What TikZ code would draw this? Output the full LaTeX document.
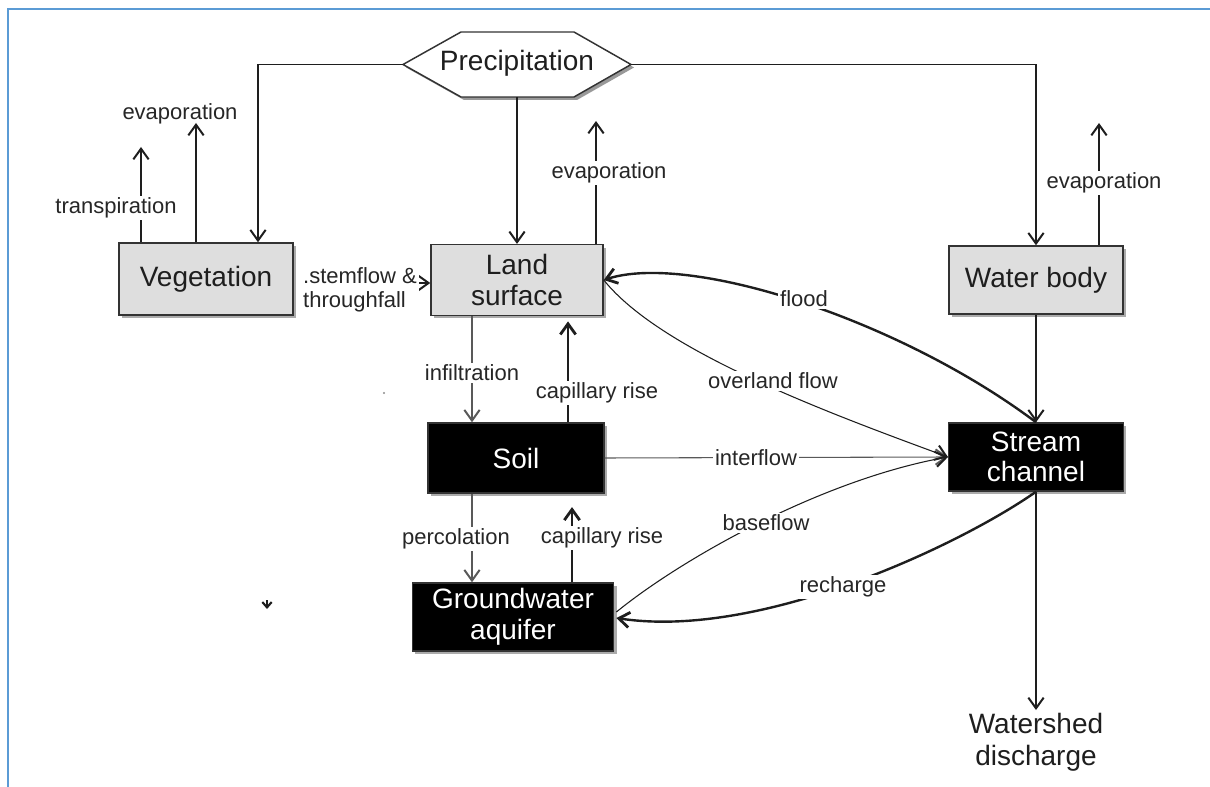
\documentclass[tikz,border=0pt]{standalone}
\usepackage{fontspec}
\setmainfont{Liberation Sans}
\usetikzlibrary{arrows.meta,shadows,calc}
\definecolor{frameblue}{HTML}{5B9BD5}
\definecolor{ink}{HTML}{1E1E1E}
\definecolor{boxgrey}{HTML}{DEDEDE}

\begin{document}
\begin{tikzpicture}[x=0.75pt,y=-0.75pt,
  flow/.style={draw=ink, line width=0.8pt,
    -{Straight Barb[length=8pt,width=11.5pt,line width=0.7pt 1]}},
  heavy/.style={flow, line width=1.8pt,
    -{Straight Barb[length=8pt,width=11.5pt,line width=0.3pt 1]}},
  faint/.style={flow, draw=black!65},
  lbl/.style={fill=white, inner sep=1.5pt, text=black!85,
    font=\fontsize{16.5}{18}\selectfont},
  store/.style={draw=black!80, line width=1.1pt, align=center,
    minimum width=130pt, minimum height=52.5pt, inner sep=2pt,
    font=\fontsize{21}{23}\selectfont,
    drop shadow={shadow xshift=2.2pt, shadow yshift=-2.2pt, fill=black!55, opacity=0.6}},
  greybox/.style={store, fill=boxgrey, text=ink},
  darkbox/.style={store, fill=black, text=white},
]
\useasboundingbox (0,0) rectangle (1210,787);

% page frame
\draw[frameblue, line width=2pt] (8,787) -- (8,9) -- (1210,9);

% precipitation hexagon
\fill[black!40] (406,67.5) -- (464,35) -- (577,35) -- (634,67.5) -- (577,100) -- (464,100) -- cycle;
\draw[fill=white, draw=black!80, line width=1.1pt]
  (403,64.5) -- (461,32) -- (574,32) -- (631,64.5) -- (574,97) -- (461,97) -- cycle;
\node[font=\fontsize{21}{23}\selectfont, text=ink] (precip) at (517,63) {Precipitation};
\coordinate (pl) at (403,64.5);
\coordinate (pr) at (631,64.5);
\coordinate (pb) at (517,97);

% stores
\node[greybox, minimum width=130.5pt, minimum height=54pt] (veg) at (206,279) {Vegetation};
\node[greybox, minimum width=129pt, minimum height=53pt] (land) at (517,280) {Land\\surface};
\node[greybox, minimum width=130.5pt, minimum height=51pt] (water) at (1036,280) {Water body};
\node[darkbox, minimum width=132pt, minimum height=52.5pt] (soil) at (516,458) {Soil};
\node[darkbox, minimum width=151pt, minimum height=51pt] (gw) at (513,617) {Groundwater\\aquifer};
\node[darkbox, minimum width=131pt, minimum height=51pt] (stream) at (1036,457) {Stream\\channel};
\node[align=center, text=ink, font=\fontsize{21}{24}\selectfont, inner sep=2pt] (out) at (1036,742) {Watershed\\discharge};

% precipitation inputs
\draw[flow] (pl) -| ($(veg.north)+(52,0)$);
\draw[flow] (pr) -| (water.north);
\draw[flow] (pb) -- (land.north);

% losses to the atmosphere
\coordinate (vegT) at (141,147);
\coordinate (vegE) at (196,123);
\coordinate (landE) at (596,121);
\coordinate (waterE) at (1099,123);
\draw[flow] (veg.north -| vegT) -- (vegT);
\draw[flow] (veg.north -| vegE) -- (vegE);
\draw[flow] (land.north -| landE) -- (landE);
\draw[flow] (water.north -| waterE) -- (waterE);
\node[lbl] (tlab) at (116,208) {transpiration};
\node[lbl, fill=none] (velab) at (180,114) {evaporation};
\node[lbl] (lelab) at (609,173) {evaporation};
\node[lbl] (welab) at (1104,183) {evaporation};

% stemflow and throughfall
\coordinate (sf) at (0,283);
\draw[flow, shorten <=8pt] (veg.east |- sf) -- (land.west |- sf);
\node[lbl, align=left, font=\fontsize{16.5}{18}\selectfont] (sflab) at (360,290) {.stemflow \&\\throughfall};

% vertical exchanges
\draw[faint] ($(land.south)+(-45,0)$) -- ($(soil.north)+(-44,0)$);
\node[lbl] (inflab) at (472,373) {infiltration};
\draw[heavy, shorten >=4pt] ($(soil.north)+(52,0)$) -- ($(land.south)+(51,0)$);
\node[lbl] (cr1lab) at (597,393) {capillary rise};
\draw[faint] ($(soil.south)+(-44,0)$) -- ($(gw.north)+(-41,0)$);
\node[lbl] (perclab) at (456,539) {percolation};
\draw[heavy, shorten >=10pt] ($(gw.north)+(59,0)$) -- ($(soil.south)+(56,0)$);
\node[lbl] (cr2lab) at (602,538) {capillary rise};

% lateral flows to and from the stream
\draw[faint] (soil.east) -- (stream.west);
\node[lbl] (iflab) at (756,458) {interflow};
\draw[flow] (land.east) .. controls (660,350) and (820,410) .. (stream.west);
\node[lbl] (oflab) at (773,381) {overland flow};
\draw[heavy] (stream.north) .. controls (900,320) and (690,252) .. (land.east);
\node[lbl] (fllab) at (804,299) {flood};
\draw[flow] ($(gw.east)+(2,-5)$) .. controls (680,560) and (820,480) .. (stream.west);
\node[lbl] (bflab) at (766,523) {baseflow};
\draw[heavy] (stream.south) .. controls (960,545) and (760,640) .. ($(gw.east)+(2,1)$);
\node[lbl] (rclab) at (843,587) {recharge};

\draw[flow] (water.south) -- (stream.north);
\draw[flow] (stream.south) -- (out.north);

% stray marks
\fill[black!45] (384,393) circle (1.2);
\draw[ink, line width=1pt, -{Straight Barb[length=4pt,width=7pt,line width=0.6pt 1]}] (267,600) -- (267,609);
\end{tikzpicture}
\end{document}
